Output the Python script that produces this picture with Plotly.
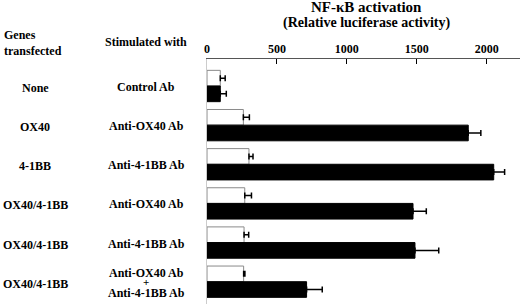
import plotly.graph_objects as go

genes = ["None", "OX40", "4-1BB", "OX40/4-1BB", "OX40/4-1BB", "OX40/4-1BB"]
stimuli = ["Control Ab", "Anti-OX40 Ab", "Anti-4-1BB Ab", "Anti-OX40 Ab", "Anti-4-1BB Ab",
           ["Anti-OX40 Ab", "+", "Anti-4-1BB Ab"]]
white_vals = [95, 260, 300, 270, 265, 262]
white_err = [35, 43, 29, 48, 33, 9]
black_vals = [95, 1868, 2050, 1473, 1487, 712]
black_err = [43, 90, 78, 95, 170, 112]
tick_vals = [0, 500, 1000, 1500, 2000]
title_lines = ["NF-κB activation", "(Relative luciferase activity)"]

rows = list(range(len(genes)))

W, H = 520, 304
L, T = 207, 59
PW, PH = W - L, H - T
FONT = "Liberation Serif, Times New Roman, serif"


def px_x(px):
    return (px - L) / PW


def px_y(py):
    return 1 - (py - T) / PH


fig = go.Figure()
fig.add_trace(go.Bar(
    y=rows, x=white_vals, orientation="h",
    marker=dict(color="white", line=dict(color="#8a8a8a", width=1)),
    error_x=dict(type="data", array=white_err, arrayminus=[0] * len(rows), symmetric=False,
                 color="black", thickness=1.5, width=3),
    showlegend=False,
))
fig.add_trace(go.Bar(
    y=rows, x=black_vals, orientation="h",
    marker=dict(color="black", line=dict(color="black", width=1)),
    error_x=dict(type="data", array=black_err, arrayminus=[0] * len(rows), symmetric=False,
                 color="black", thickness=1.5, width=3),
    showlegend=False,
))

ann = []
lab_font = dict(family=FONT, size=12, color="black", weight="bold")
for i, g in enumerate(genes):
    ann.append(dict(x=px_x(35), xref="paper", y=i, yref="y", text=g, showarrow=False,
                    xanchor="center", yanchor="middle", font=lab_font, yshift=-2))
for i, s in enumerate(stimuli):
    if isinstance(s, list):
        shifts = [9, 0, -11]
        sizes = [12, 11, 12]
        for t, sh, sz in zip(s, shifts, sizes):
            ann.append(dict(x=px_x(146), xref="paper", y=i, yref="y", text=t, showarrow=False,
                            xanchor="center", yanchor="middle",
                            font=dict(family=FONT, size=sz, color="black", weight="bold"),
                            yshift=sh))
    else:
        ann.append(dict(x=px_x(146), xref="paper", y=i, yref="y", text=s, showarrow=False,
                        xanchor="center", yanchor="middle", font=lab_font, yshift=-1))

ann.append(dict(x=px_x(2), xref="paper", y=px_y(43.5), yref="paper", text="Genes<br>transfected",
                showarrow=False, xanchor="left", yanchor="middle", align="left", font=lab_font))
ann.append(dict(x=px_x(146), xref="paper", y=px_y(42), yref="paper", text="Stimulated with",
                showarrow=False, xanchor="center", yanchor="middle", font=lab_font))
for t, py, sz in zip(title_lines, [7.5, 23], [15, 14]):
    ann.append(dict(x=px_x(366), xref="paper", y=px_y(py), yref="paper", text=t,
                    showarrow=False, xanchor="center", yanchor="middle",
                    font=dict(family=FONT, size=sz, color="black", weight="bold")))

fig.update_layout(
    width=W, height=H,
    margin=dict(l=L, r=0, t=T, b=0, pad=0, autoexpand=False),
    paper_bgcolor="white", plot_bgcolor="white",
    barmode="group", bargap=0.2, bargroupgap=0,
    annotations=ann,
    xaxis=dict(side="top", range=[0, 2238], tickvals=tick_vals, ticks="inside", ticklen=5,
               tickcolor="black", tickwidth=1, showline=True, linecolor="#555", linewidth=1,
               showgrid=False, zeroline=False, automargin=False,
               tickfont=dict(family=FONT, size=12, color="black", weight="bold")),
    yaxis=dict(range=[5.57, -0.69], showticklabels=False, ticks="", showline=True,
               linecolor="#cccccc", linewidth=1, showgrid=False, zeroline=False,
               automargin=False),
)

fig.write_html("out.html", config={"displayModeBar": False},
               post_script="document.body.style.margin='0';document.body.style.overflow='hidden';")
